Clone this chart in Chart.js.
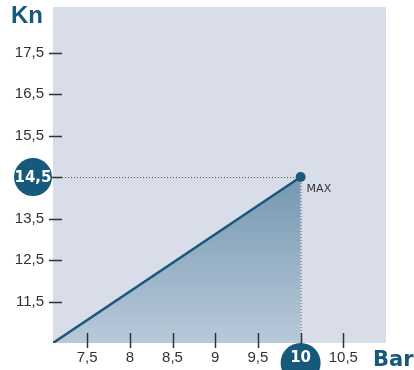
<!DOCTYPE html>
<html>
<head>
<meta charset="utf-8">
<script src="https://cdn.jsdelivr.net/npm/chart.js@4"></script>
<style>
  html, body { margin: 0; padding: 0; background: #fff; }
  #wrap { width: 414px; height: 370px; }
</style>
</head>
<body>
<div id="wrap"><canvas id="chart" width="414" height="370"></canvas></div>
<script>
  // pressione (bar) -> forza (kN)
  const pressure = [7.1, 10];
  const force = [10.5, 14.5];
  const xTicks = [7.5, 8, 8.5, 9, 9.5, 10, 10.5];
  const yTicks = [11.5, 12.5, 13.5, 14.5, 15.5, 16.5, 17.5];
  const maxPoint = { x: 10, y: 14.5 };

  const TEAL = '#17597a';
  const TICK_FONT = '15px "Liberation Sans Narrow", "Liberation Sans", sans-serif';

  function fmt(v) {
    return String(v).replace('.', ',');
  }

  const decorPlugin = {
    id: 'decor',
    beforeDraw(chart) {
      const { ctx, chartArea: a } = chart;
      ctx.save();
      ctx.fillStyle = '#d8dde9';
      ctx.fillRect(a.left, a.top, a.right - a.left, a.bottom - a.top);
      ctx.restore();
    },
    afterDatasetsDraw(chart) {
      const { ctx, chartArea: a, scales } = chart;
      const xs = scales.x, ys = scales.y;
      const px = xs.getPixelForValue(maxPoint.x);
      const py = ys.getPixelForValue(maxPoint.y);

      ctx.save();
      // dotted guides
      ctx.strokeStyle = '#555';
      ctx.lineWidth = 1;
      ctx.setLineDash([1, 2]);
      ctx.beginPath();
      ctx.moveTo(a.left, py + 0.5);
      ctx.lineTo(px, py + 0.5);
      ctx.moveTo(px + 0.5, py);
      ctx.lineTo(px + 0.5, a.bottom);
      ctx.stroke();
      ctx.setLineDash([]);

      // tick marks
      ctx.strokeStyle = '#333';
      ctx.lineWidth = 1.5;
      ctx.beginPath();
      yTicks.forEach(v => {
        const y = Math.round(ys.getPixelForValue(v)) + 0.5;
        ctx.moveTo(a.left - 4, y);
        ctx.lineTo(a.left + 9, y);
      });
      xTicks.forEach(v => {
        const x = Math.round(xs.getPixelForValue(v)) + 0.5;
        ctx.moveTo(x, a.bottom - 10);
        ctx.lineTo(x, a.bottom + 5);
      });
      ctx.stroke();

      // tick labels
      ctx.fillStyle = '#333';
      ctx.font = TICK_FONT;
      ctx.textBaseline = 'middle';
      ctx.textAlign = 'right';
      yTicks.forEach(v => {
        if (v === maxPoint.y) return;
        ctx.fillText(fmt(v), a.left - 9, ys.getPixelForValue(v));
      });
      ctx.textAlign = 'center';
      xTicks.forEach(v => {
        if (v === maxPoint.x) return;
        ctx.fillText(fmt(v), xs.getPixelForValue(v), a.bottom + 15);
      });

      // highlighted values
      ctx.fillStyle = TEAL;
      ctx.beginPath();
      ctx.arc(33, py, 19, 0, Math.PI * 2);
      ctx.fill();
      ctx.beginPath();
      ctx.arc(px, a.bottom + 20, 20, 0, Math.PI * 2);
      ctx.fill();
      ctx.fillStyle = '#fff';
      ctx.font = 'bold 15px "DejaVu Sans", sans-serif';
      ctx.textAlign = 'center';
      ctx.fillText(fmt(maxPoint.y), 33, py + 1);
      ctx.fillText(fmt(maxPoint.x), px, a.bottom + 15);

      // MAX label
      ctx.fillStyle = '#333';
      ctx.font = '11px "DejaVu Sans", sans-serif';
      ctx.textAlign = 'left';
      ctx.fillText('MAX', px + 6, py + 12);

      // axis titles
      ctx.fillStyle = TEAL;
      ctx.font = 'bold 24px "Liberation Sans", sans-serif';
      ctx.textBaseline = 'alphabetic';
      ctx.fillText('Kn', 11, 23);
      ctx.font = 'bold 21px "DejaVu Sans", sans-serif';
      ctx.fillText('Bar', 373, 366);
      ctx.restore();
    }
  };

  new Chart(document.getElementById('chart'), {
    type: 'line',
    data: {
      datasets: [{
        data: pressure.map((p, i) => ({ x: p, y: force[i] })),
        borderColor: TEAL,
        borderWidth: 2.5,
        pointRadius: [0, 5],
        pointBackgroundColor: TEAL,
        pointBorderWidth: 0,
        fill: 'start',
        backgroundColor(context) {
          const { ctx, chartArea, scales } = context.chart;
          if (!chartArea) return '#9fb5c9';
          const top = scales.y.getPixelForValue(maxPoint.y);
          const g = ctx.createLinearGradient(0, top, 0, chartArea.bottom);
          g.addColorStop(0, '#7598b1');
          g.addColorStop(1, '#b9c9da');
          return g;
        },
        tension: 0
      }]
    },
    options: {
      responsive: false,
      animation: false,
      layout: { padding: { left: 53, top: 7, right: 28, bottom: 27 } },
      plugins: { legend: { display: false }, tooltip: { enabled: false } },
      scales: {
        x: { type: 'linear', min: 7.1, max: 11.0, display: false },
        y: { type: 'linear', min: 10.5, max: 18.6, display: false }
      }
    },
    plugins: [decorPlugin]
  });
</script>
</body>
</html>
